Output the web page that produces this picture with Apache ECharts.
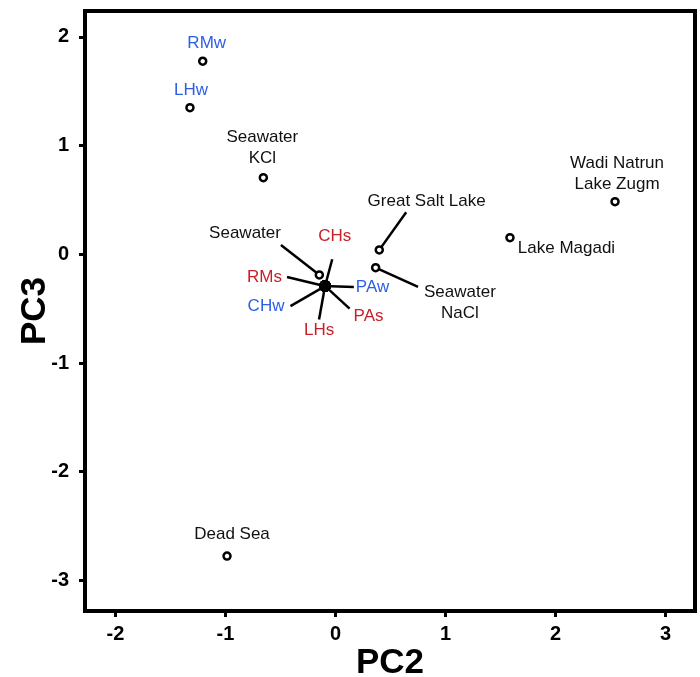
<!DOCTYPE html>
<html><head><meta charset="utf-8">
<script src="https://cdn.jsdelivr.net/npm/echarts@6/dist/echarts.min.js"></script>
<style>html,body{margin:0;padding:0;background:#fff}#c{width:700px;height:677px}</style>
</head><body><div id="c"></div>
<script>
// ---- data ----
const names = ['RMw','LHw','Seawater\nKCl','Great Salt Lake','Seawater\nNaCl','Lake Magadi','Wadi Natrun\nLake Zugm','Dead Sea','Seawater','CHs','RMs','PAw','CHw','PAs','LHs'];
const pc2 = [-1.207,-1.323,-0.656,0.398,0.365,1.586,2.541,-0.986,-0.147,-0.095,-0.095,-0.095,-0.095,-0.095,-0.095];
const pc3 = [1.776,1.349,0.705,0.040,-0.123,0.153,0.484,-2.776,-0.190,-0.292,-0.292,-0.292,-0.292,-0.292,-0.292];
const kind = ['water','water','brine','brine','brine','brine','brine','brine','brine','sediment','sediment','water','water','sediment','sediment'];
const xTicks = [-2,-1,0,1,2,3];
const yTicks = [-3,-2,-1,0,1,2];
const xTitle = 'PC2', yTitle = 'PC3';

// ---- styles ----
const kindColor = {water:'#2d5fe6', sediment:'#c8202a', brine:'#111111'};
// label text centre offset from marker (px), padding [t,r,b,l], guide line, filled marker
const labelSpec = [
  {dx:4, dy:-18, pad:[0,0,0,0], line:false, filled:false},
  {dx:1, dy:-17, pad:[0,0,0,0], line:false, filled:false},
  {dx:-1, dy:-30, pad:[0,0,0,0], line:false, filled:false},
  {dx:47.4, dy:-48.3, pad:[0,0,0,41], line:true, filled:false},
  {dx:84.3, dy:34.8, pad:[31,0,0,6], line:true, filled:false},
  {dx:56.5, dy:10.3, pad:[0,0,0,0], line:false, filled:false},
  {dx:2, dy:-28, pad:[0,0,0,0], line:false, filled:false},
  {dx:5, dy:-22, pad:[0,0,0,0], line:false, filled:false},
  {dx:-74.3, dy:-42, pad:[0,0,24,0], line:true, filled:false},
  {dx:9.7, dy:-49.3, pad:[0,0,12,5], line:true, filled:true},
  {dx:-60.5, dy:-9, pad:[0,5,0,0], line:true, filled:true},
  {dx:47.5, dy:1, pad:[0,0,0,2], line:true, filled:true},
  {dx:-59, dy:20, pad:[0,6,0,0], line:true, filled:true},
  {dx:43.5, dy:30.5, pad:[16,0,0,4], line:true, filled:true},
  {dx:-6, dy:44, pad:[0,0,0,0], line:true, filled:true}
];

const chart = echarts.init(document.getElementById('c'), null, {renderer:'canvas'});
const tickFont = {fontFamily:'"Liberation Sans Narrow", "Arial Narrow", "Liberation Sans", Arial', fontWeight:'bold', fontSize:20, color:'#000'};
const titleFont = {fontFamily:'"Liberation Sans", Arial', fontWeight:'bold', fontSize:35, color:'#000'};

chart.setOption({
  animation:false,
  backgroundColor:'#fff',
  grid:{left:85, right:5, top:11, bottom:66, show:true, borderColor:'#000', borderWidth:4, backgroundColor:'transparent', containLabel:false, outerBoundsMode:'none'},
  xAxis:{
    type:'value', min:-2.277, max:3.268,
    axisLine:{show:false, onZero:false},
    axisTick:{show:true, inside:false, length:6, lineStyle:{color:'#000', width:3}, customValues:xTicks},
    axisLabel:Object.assign({margin:13, customValues:xTicks}, tickFont),
    splitLine:{show:false},
    name:xTitle, nameLocation:'middle', nameGap:35, nameTextStyle:titleFont, nameMoveOverlap:false
  },
  yAxis:{
    type:'value', min:-3.281, max:2.238,
    axisLine:{show:false, onZero:false},
    axisTick:{show:true, inside:false, length:6, lineStyle:{color:'#000', width:3}, customValues:yTicks},
    axisLabel:Object.assign({margin:16, customValues:yTicks}, tickFont),
    splitLine:{show:false},
    name:yTitle, nameLocation:'middle', nameGap:32, nameRotate:90, nameTextStyle:titleFont, nameMoveOverlap:false
  },
  series:[{
    type:'scatter',
    symbol:'circle',
    data:names.map((n,i)=>({
      value:[pc2[i], pc3[i]],
      name:n,
      symbolSize: labelSpec[i].filled ? 12 : 7,
      itemStyle: labelSpec[i].filled ? {color:'#000', borderColor:'#000', borderWidth:0, opacity:1} : {color:'#fff', borderColor:'#000', borderWidth:2.5, opacity:1},
      label:{color:kindColor[kind[i]], padding:labelSpec[i].pad},
      labelLine:{show:labelSpec[i].line}
    })),
    itemStyle:{opacity:1},
    label:{show:true, position:'top', distance:0, formatter:'{b}', fontSize:17, fontFamily:'"Liberation Sans", Arial', lineHeight:21, backgroundColor:'transparent', align:'center', opacity:1},
    labelLine:{show:true, length2:0, lineStyle:{color:'#000', width:2.5, opacity:1}},
    labelLayout:function(p){
      const s = labelSpec[p.dataIndex];
      const pad = s.pad;
      const cx = p.rect.x + p.rect.width/2, cy = p.rect.y + p.rect.height/2;
      const bx = cx + s.dx - (pad[3]-pad[1])/2;
      const by = cy + s.dy - (pad[0]-pad[2])/2;
      const lr = p.labelRect;
      return {dx: bx - (lr.x + lr.width/2), dy: by - (lr.y + lr.height/2)};
    },
    emphasis:{disabled:true},
    z:3
  }]
});
</script>
</body></html>
